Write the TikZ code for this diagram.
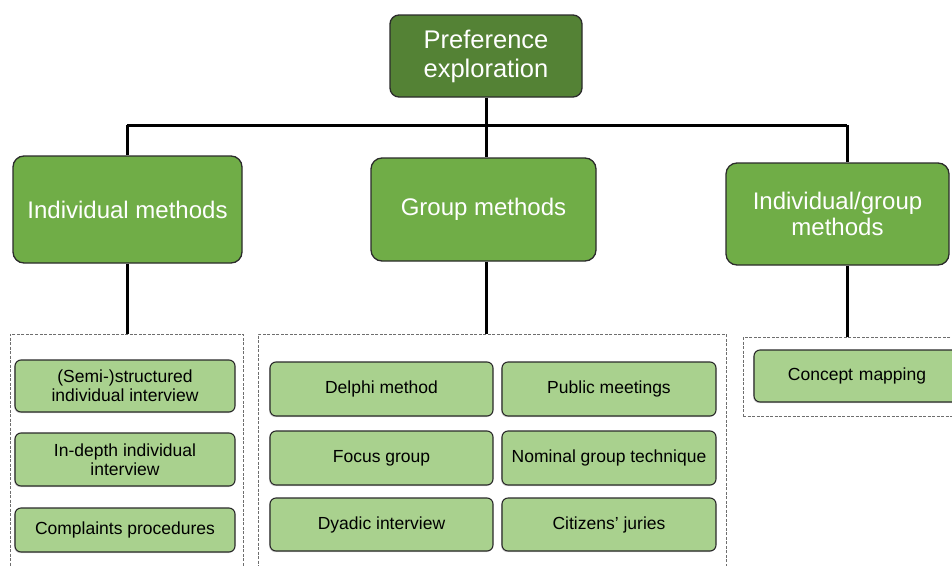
\documentclass[tikz,border=0pt]{standalone}
\usepackage{fontspec}
\setmainfont{Liberation Sans}
\usetikzlibrary{shadows}
\definecolor{dkg}{HTML}{548235}
\definecolor{mdg}{HTML}{70AD47}
\definecolor{ltg}{HTML}{A9D18E}
\definecolor{bd}{HTML}{2B2B2B}
\definecolor{frm}{HTML}{6E6E6E}
\begin{document}
\begin{tikzpicture}[x=1pt,y=-1pt,
  topbox/.style={draw=bd, line width=1.3pt, fill=dkg, rounded corners=9pt, text=white,
    font=\fontsize{25.5}{29}\selectfont, align=center, inner sep=0pt},
  midbox/.style={draw=bd, line width=1.3pt, fill=mdg, rounded corners=11pt, text=white,
    font=\fontsize{24}{26}\selectfont, align=center, inner sep=0pt},
  leaf/.style={draw=bd, line width=1.1pt, fill=ltg, rounded corners=6pt, text=black,
    font=\fontsize{17.5}{19}\selectfont, align=center, inner sep=0pt,
    drop shadow={shadow xshift=-0.8pt, shadow yshift=-1.2pt, opacity=0.3}},
  grpframe/.style={draw=frm, dash pattern=on 3pt off 1.5pt, line width=0.7pt, inner sep=0pt},
  link/.style={line width=3pt, black}]
\clip (0,0) rectangle (952,565);
\fill[white] (0,0) rectangle (952,565);

% main boxes
\node[topbox, minimum width=192pt, minimum height=82pt] (top) at (486,56) {Preference\\exploration};
\node[midbox, minimum width=229pt, minimum height=107pt] (ind) at (127.5,209.5) {Individual methods};
\node[midbox, minimum width=225pt, minimum height=103pt] (grp) at (483.5,209.5) {Group methods};
\node[midbox, minimum width=223pt, minimum height=102pt] (ig) at (837.5,214) {Individual/group\\methods};

% dashed frames
\node[grpframe, minimum width=233pt, minimum height=246pt] (fl) at (126.5,457) {};
\node[grpframe, minimum width=468pt, minimum height=246pt] (fm) at (492,457) {};
\node[grpframe, minimum width=217pt, minimum height=79pt] (fr) at (851.5,376.5) {};

% leaves: individual
\node[leaf, minimum width=220pt, minimum height=52pt] (l1) at (125,386) {(Semi-)structured\\individual interview};
\node[leaf, minimum width=220pt, minimum height=53pt] (l2) at (125,459.5) {In-depth individual\\interview};
\node[leaf, minimum width=220pt, minimum height=44pt] (l3) at (125,530) {Complaints procedures};

% leaves: group
\node[leaf, minimum width=223pt, minimum height=54pt] (g1) at (381.5,389) {Delphi method};
\node[leaf, minimum width=214pt, minimum height=54pt] (g2) at (609,389) {Public meetings};
\node[leaf, minimum width=223pt, minimum height=54pt] (g3) at (381.5,458) {Focus group};
\node[leaf, minimum width=214pt, minimum height=54pt] (g4) at (609,458) {Nominal group technique};
\node[leaf, minimum width=223pt, minimum height=53pt] (g5) at (381.5,524.5) {Dyadic interview};
\node[leaf, minimum width=214pt, minimum height=53pt] (g6) at (609,524.5) {Citizens' juries};

% leaves: individual/group
\node[leaf, minimum width=206pt, minimum height=52pt, text width=206pt] (c1) at (857,376) {Concept mapping};

% connectors
\coordinate (busL) at (127,125);
\coordinate (busR) at (847,125);
\draw[link] (top.south) -- (top.south |- busL);
\draw[link] (busL) -- (busR);
\draw[link] (busL) -- (busL |- ind.north);
\draw[link] (top.south |- busL) -- (top.south |- grp.north);
\draw[link] (busR) -- (busR |- ig.north);
\draw[link] (busL |- ind.south) -- (busL |- fl.north);
\draw[link] (top.south |- grp.south) -- (top.south |- fm.north);
\draw[link] (busR |- ig.south) -- (busR |- fr.north);
\end{tikzpicture}
\end{document}
